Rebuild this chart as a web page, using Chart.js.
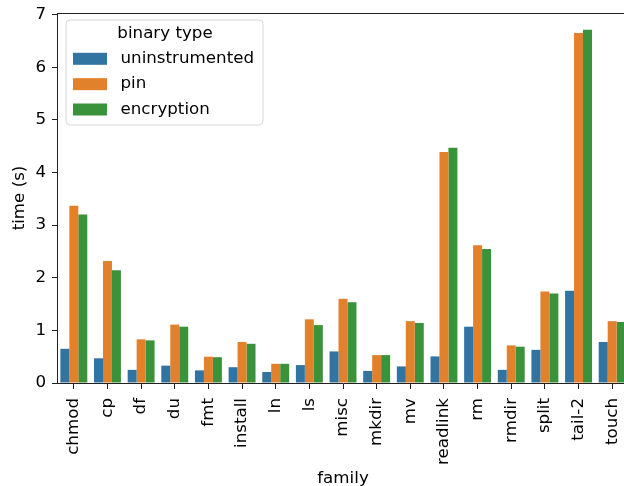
<!DOCTYPE html>
<html>
<head>
<meta charset="utf-8">
<title>time by family and binary type</title>
<script src="https://cdn.jsdelivr.net/npm/chart.js@4/dist/chart.umd.min.js"></script>
<style>
  html, body { margin: 0; padding: 0; background: #fff; overflow: hidden; }
  canvas { display: block; }
</style>
</head>
<body>
<canvas id="chart" width="630" height="486"></canvas>
<script>
// Categories (program families)
const families = ['chmod', 'cp', 'df', 'du', 'fmt', 'install', 'ln', 'ls', 'misc', 'mkdir',
                  'mv', 'readlink', 'rm', 'rmdir', 'split', 'tail-2', 'touch'];

// Mean running time in seconds per binary type
const uninstrumented = [0.65, 0.47, 0.25, 0.33, 0.24, 0.30, 0.21, 0.34, 0.60, 0.23,
                        0.315, 0.505, 1.07, 0.25, 0.63, 1.755, 0.78];
const pin            = [3.37, 2.32, 0.83, 1.11, 0.50, 0.78, 0.365, 1.21, 1.60, 0.53,
                        1.175, 4.39, 2.615, 0.715, 1.74, 6.65, 1.175];
const encryption     = [3.20, 2.14, 0.81, 1.07, 0.49, 0.745, 0.365, 1.10, 1.535, 0.53,
                        1.14, 4.47, 2.545, 0.69, 1.70, 6.71, 1.16];

const seriesNames = ['uninstrumented', 'pin', 'encryption'];
const yTicks = [0, 1, 2, 3, 4, 5, 6, 7];

const colors = ['#3274a1', '#e1812c', '#3a923a'];
const FONT = 'DejaVu Sans';
const FS = 16.7;

// Legend box drawn inside the plot area, upper left
const legendInside = {
  id: 'legendInside',
  afterDraw(chart) {
    const ctx = chart.ctx;
    const x0 = 66, y0 = 20, w = 197, h = 105, r = 4;
    ctx.save();
    ctx.beginPath();
    ctx.moveTo(x0 + r, y0);
    ctx.arcTo(x0 + w, y0, x0 + w, y0 + h, r);
    ctx.arcTo(x0 + w, y0 + h, x0, y0 + h, r);
    ctx.arcTo(x0, y0 + h, x0, y0, r);
    ctx.arcTo(x0, y0, x0 + w, y0, r);
    ctx.closePath();
    ctx.fillStyle = 'rgba(255,255,255,0.8)';
    ctx.fill();
    ctx.strokeStyle = '#d6d6d6';
    ctx.lineWidth = 1;
    ctx.stroke();

    ctx.font = FS + 'px "' + FONT + '"';
    ctx.fillStyle = '#000';
    ctx.textBaseline = 'middle';
    ctx.textAlign = 'center';
    ctx.fillText('binary type', 165, 34);
    ctx.textAlign = 'left';
    chart.data.datasets.forEach((ds, i) => {
      const cy = 58.8 + i * 25.35;
      ctx.fillStyle = ds.backgroundColor;
      ctx.fillRect(73, cy - 6, 34, 12);
      ctx.fillStyle = '#000';
      ctx.fillText(ds.label, 120.5, cy);
    });
    ctx.restore();
  }
};

// Top spine of the axes frame
const topSpine = {
  id: 'topSpine',
  afterDraw(chart) {
    const { ctx, chartArea } = chart;
    ctx.save();
    ctx.strokeStyle = '#222';
    ctx.lineWidth = 1;
    ctx.beginPath();
    ctx.moveTo(chartArea.left, chartArea.top + 0.5);
    ctx.lineTo(chartArea.right, chartArea.top + 0.5);
    ctx.stroke();
    ctx.restore();
  }
};

// Keep the plot frame fixed: no extra room reserved for overhanging labels
function noOverhang(scale) {
  scale.paddingTop = 0;
  scale.paddingBottom = 0;
  scale.paddingLeft = 0;
  scale.paddingRight = 0;
}

new Chart(document.getElementById('chart'), {
  type: 'bar',
  data: {
    labels: families,
    datasets: [uninstrumented, pin, encryption].map((vals, i) => ({
      label: seriesNames[i],
      data: vals,
      backgroundColor: colors[i],
      borderWidth: 0,
      categoryPercentage: 0.8,
      barPercentage: 1.0
    }))
  },
  options: {
    responsive: false,
    devicePixelRatio: 1,
    animation: false,
    layout: { padding: { top: 13, right: 1, left: 0, bottom: 0 } },
    plugins: {
      legend: { display: false },
      tooltip: { enabled: false }
    },
    scales: {
      x: {
        grid: { drawOnChartArea: false, drawTicks: true, tickLength: 6, color: '#222', tickWidth: 1, offset: false },
        border: { display: true, color: '#222', width: 1 },
        ticks: {
          color: '#000',
          font: { family: FONT, size: FS },
          minRotation: 90,
          maxRotation: 90,
          padding: 9,
          autoSkip: false
        },
        title: {
          display: true,
          text: 'family',
          color: '#000',
          font: { family: FONT, size: FS },
          padding: { top: 0, bottom: -3 }
        },
        afterFit(scale) { scale.height = 103; noOverhang(scale); }
      },
      y: {
        min: 0,
        max: 7.03,
        grid: { drawOnChartArea: false, drawTicks: true, tickLength: 5, color: '#222', tickWidth: 1 },
        border: { display: true, color: '#222', width: 1 },
        ticks: {
          color: '#000',
          font: { family: FONT, size: FS },
          padding: 6
        },
        afterBuildTicks(scale) { scale.ticks = yTicks.map(v => ({ value: v })); },
        title: {
          display: true,
          text: 'time (s)',
          color: '#000',
          font: { family: FONT, size: FS },
          padding: { top: 10, bottom: 0 }
        },
        afterFit(scale) { scale.width = 57; noOverhang(scale); }
      }
    }
  },
  plugins: [legendInside, topSpine]
});
</script>
</body>
</html>
